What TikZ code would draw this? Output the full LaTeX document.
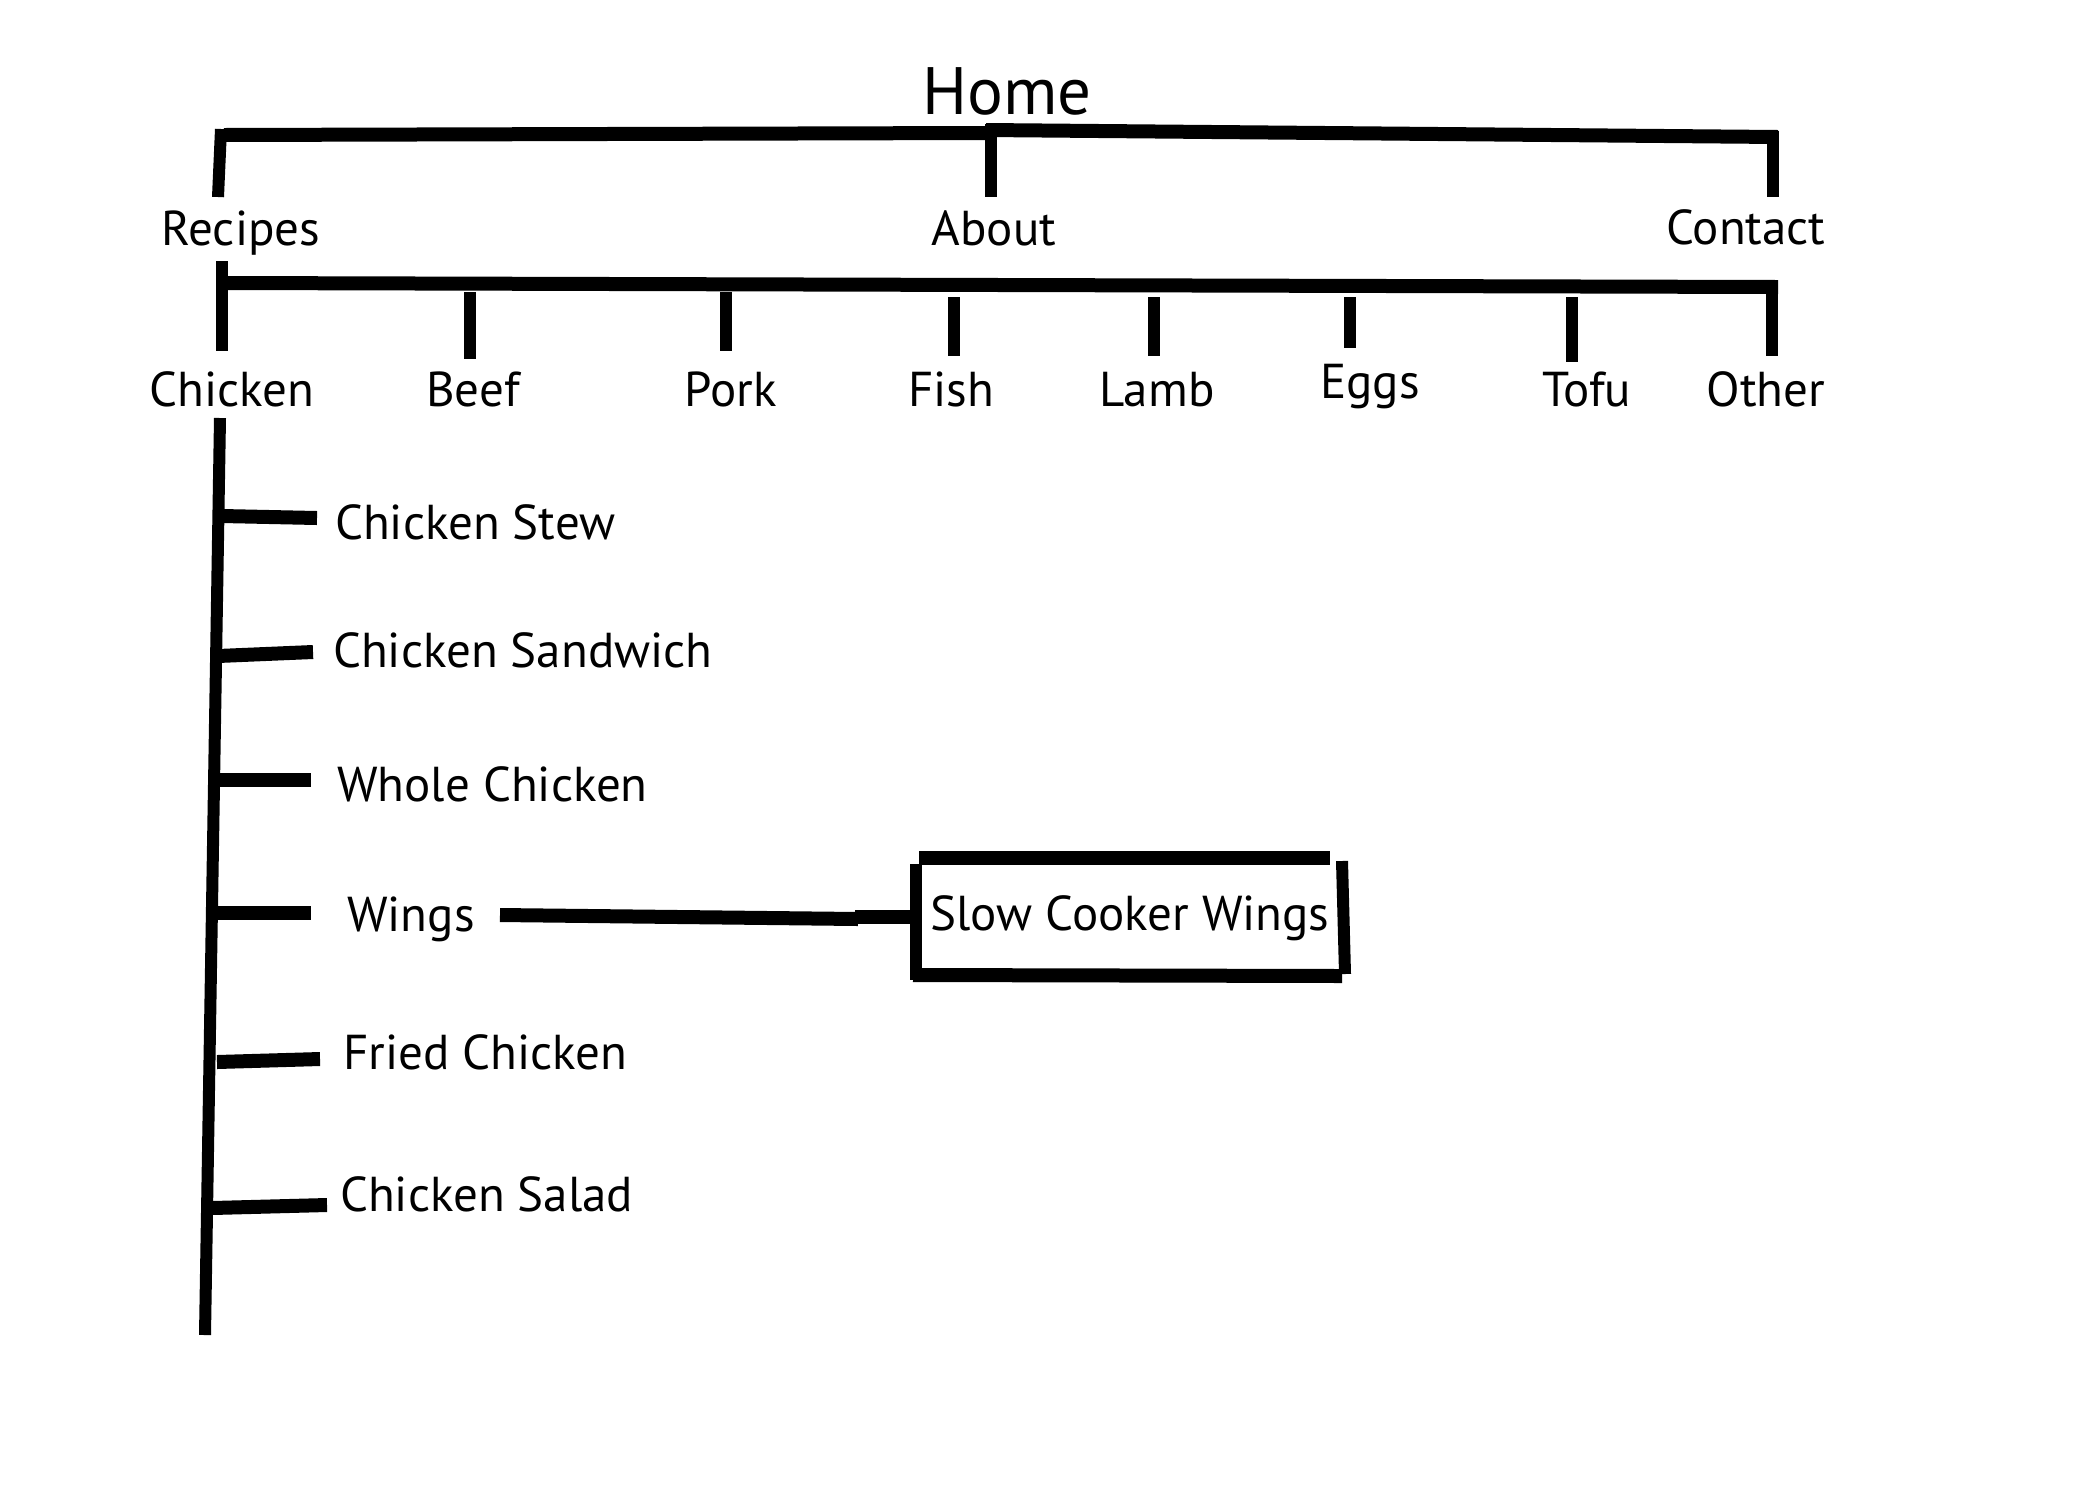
\documentclass[tikz,border=0pt]{standalone}
\usepackage{fontspec}
\setmainfont{PT Sans}
\begin{document}
\begin{tikzpicture}[x=1pt,y=-1pt,
  lbl/.style={inner sep=0pt, font=\fontsize{49}{54}\selectfont},
  hl/.style={line width=14pt},
  vl/.style={line width=12pt}]
\fill[white] (0,0) rectangle (2100,1500);
\useasboundingbox (0,0) rectangle (2100,1500);
% labels
\node[lbl, anchor=base, font=\fontsize{67}{72}\selectfont] (home) at (1007,114) {Home};
\node[lbl, anchor=base] (recipes) at (241,245) {Recipes};
\node[lbl, anchor=base] (about) at (994,245) {About};
\node[lbl, anchor=base] (contact) at (1746,244) {Contact};
\node[lbl, anchor=base] (chicken) at (232,406) {Chicken};
\node[lbl, anchor=base] (beef) at (473,406) {Beef};
\node[lbl, anchor=base] (pork) at (731,406) {Pork};
\node[lbl, anchor=base] (fish) at (951,406) {Fish};
\node[lbl, anchor=base] (lamb) at (1157,406) {Lamb};
\node[lbl, anchor=base] (eggs) at (1370,398) {Eggs};
\node[lbl, anchor=base] (tofu) at (1587,406) {Tofu};
\node[lbl, anchor=base] (other) at (1766,406) {Other};
\node[lbl, anchor=base west] (stew) at (335,539) {Chicken Stew};
\node[lbl, anchor=base west] (sandwich) at (333,667) {Chicken Sandwich};
\node[lbl, anchor=base west] (whole) at (337,801) {Whole Chicken};
\node[lbl, anchor=base west] (wings) at (347,931) {Wings};
\node[lbl, anchor=base west] (fried) at (343,1069) {Fried Chicken};
\node[lbl, anchor=base west] (salad) at (340,1211) {Chicken Salad};
\node[lbl, anchor=base] (slow) at (1130,930) {Slow Cooker Wings};
% junction coordinates
\coordinate (t1) at (224,135); \coordinate (t2) at (986,133);
\coordinate (t3) at (986,130); \coordinate (t4) at (1778,137);
\coordinate (r1) at (221,129); \coordinate (r2) at (218,197);
\coordinate (a1) at (991,124); \coordinate (a2) at (991,197);
\coordinate (c1) at (1773,131); \coordinate (c2) at (1773,197);
\coordinate (s1) at (224,283); \coordinate (s2) at (1778,287);
\coordinate (ch1) at (222,261); \coordinate (ch2) at (222,351);
\coordinate (be1) at (470,292); \coordinate (be2) at (470,359);
\coordinate (po1) at (726,292); \coordinate (po2) at (726,351);
\coordinate (fi1) at (954,297); \coordinate (fi2) at (954,356);
\coordinate (la1) at (1154,297); \coordinate (la2) at (1154,356);
\coordinate (eg1) at (1350,297); \coordinate (eg2) at (1350,348);
\coordinate (to1) at (1572,297); \coordinate (to2) at (1572,362);
\coordinate (ot1) at (1772,287); \coordinate (ot2) at (1772,356);
\coordinate (v1) at (220,418); \coordinate (v2) at (205,1335);
\coordinate (b1a) at (222,516); \coordinate (b1b) at (317,518);
\coordinate (b2a) at (218,656); \coordinate (b2b) at (313,652);
\coordinate (b3a) at (217,780); \coordinate (b3b) at (311,780);
\coordinate (b4a) at (214,913); \coordinate (b4b) at (311,913);
\coordinate (b5a) at (217,1062); \coordinate (b5b) at (320,1059);
\coordinate (b6a) at (212,1208); \coordinate (b6b) at (327,1205);
\coordinate (w1) at (500,915); \coordinate (w2) at (858,919);
\coordinate (w3) at (855,917); \coordinate (w4) at (916,917);
\coordinate (bx1) at (916,864); \coordinate (bx2) at (916,980);
\coordinate (bx3) at (919,858); \coordinate (bx4) at (1330,858);
\coordinate (bx5) at (1342,861); \coordinate (bx6) at (1345,974);
\coordinate (bx7) at (913,975); \coordinate (bx8) at (1342,976);
% lines
\draw[hl] (t1) -- (t2);
\draw[hl] (t3) -- (t4);
\draw[vl] (r1) -- (r2);
\draw[vl] (a1) -- (a2);
\draw[vl] (c1) -- (c2);
\draw[hl] (s1) -- (s2);
\foreach \a/\b in {ch1/ch2,be1/be2,po1/po2,fi1/fi2,la1/la2,eg1/eg2,to1/to2,ot1/ot2}
  \draw[vl] (\a) -- (\b);
\draw[vl] (v1) -- (v2);
\foreach \a/\b in {b1a/b1b,b2a/b2b,b3a/b3b,b4a/b4b,b5a/b5b,b6a/b6b}
  \draw[hl] (\a) -- (\b);
\draw[hl] (w1) -- (w2);
\draw[hl] (w3) -- (w4);
\draw[vl] (bx1) -- (bx2);
\draw[hl] (bx3) -- (bx4);
\draw[vl] (bx5) -- (bx6);
\draw[hl] (bx7) -- (bx8);
\end{tikzpicture}
\end{document}
